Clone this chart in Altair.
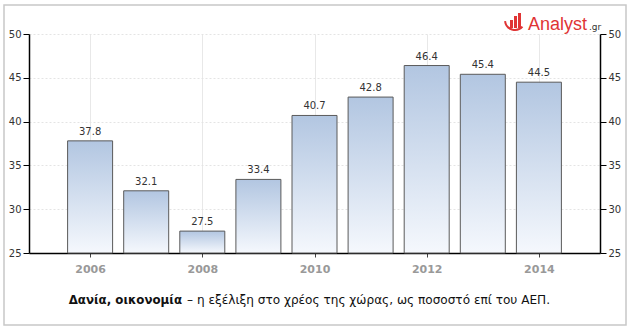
import altair as alt
import pandas as pd

years = [2006, 2007, 2008, 2009, 2010, 2011, 2012, 2013, 2014]
values = [37.8, 32.1, 27.5, 33.4, 40.7, 42.8, 46.4, 45.4, 44.5]
labels = ["37.8", "32.1", "27.5", "33.4", "40.7", "42.8", "46.4", "45.4", "44.5"]
x_ticks = [2006, 2008, 2010, 2012, 2014]
y_ticks = [25, 30, 35, 40, 45, 50]
title_bold = "Δανία, οικονομία"
title_rest = "– η εξέλιξη στο χρέος της χώρας, ως ποσοστό επί του ΑΕΠ."

df = pd.DataFrame({"year": years, "value": values, "label": labels, "base": [25] * len(years)})

W, H = 571, 219
FONT = "DejaVu Sans"
RED = "#e03434"

xscale = alt.Scale(domain=[2005, 2015], nice=False, zero=False)
yscale = alt.Scale(domain=[25, 50], nice=False, zero=False)

gradient = alt.LinearGradient(
    gradient="linear", x1=0, y1=0, x2=0, y2=1,
    stops=[alt.GradientStop(offset=0, color="#b2c6e1"),
           alt.GradientStop(offset=1, color="#f5f8fd")],
)

base = alt.Chart(df)

bars = base.mark_bar(size=45, fill=gradient, stroke="#5a5a5a", strokeWidth=1).encode(
    x=alt.X("year:Q", scale=xscale,
            axis=alt.Axis(values=x_ticks, format="d", title=None, domainColor="#000", domainWidth=1.5,
                          tickColor="#444", tickSize=4, labelColor="#999", labelFontWeight="bold",
                          labelFont=FONT, labelFontSize=11, labelPadding=6,
                          grid=True, gridColor="#e8e8e8")),
    y=alt.Y("value:Q", scale=yscale,
            axis=alt.Axis(values=y_ticks, title=None, orient="left", domainColor="#000", domainWidth=1.5,
                          tickColor="#000", tickSize=6, labelColor="#333", labelFont=FONT,
                          labelFontSize=10, labelPadding=2, grid=True, gridColor="#e4e4e4",
                          gridDash=[2, 2])),
    y2="base:Q",
)

text = base.mark_text(dy=-9, font=FONT, fontSize=10, color="#333").encode(
    x=alt.X("year:Q", scale=xscale),
    y=alt.Y("value:Q", scale=yscale, axis=None),
    text="label:N",
)

right = base.mark_point(opacity=0).encode(
    y=alt.Y("value:Q", scale=yscale,
            axis=alt.Axis(values=y_ticks, title=None, orient="right", domainColor="#000", domainWidth=1.5,
                          tickColor="#000", tickSize=6, labelColor="#333", labelFont=FONT,
                          labelFontSize=10, labelPadding=2, grid=False)),
)

one = alt.Chart(pd.DataFrame({"a": [0]}))

border = one.mark_rect(fill=None, stroke="#c8c8c8", strokeWidth=1.5).encode(
    x=alt.value(-25), x2=alt.value(597), y=alt.value(-29), y2=alt.value(291)
)

t_bold = one.mark_text(font=FONT, fontSize=11.8, fontWeight="bold", color="#111", align="right",
                       baseline="middle").encode(
    x=alt.value(153), y=alt.value(266), text=alt.value(title_bold))
t_rest = one.mark_text(font=FONT, fontSize=12.1, color="#111", align="left", baseline="middle").encode(
    x=alt.value(158), y=alt.value(266), text=alt.value(title_rest))

logo = one.mark_text(font="Liberation Sans", fontSize=18, color=RED, align="left",
                     baseline="alphabetic").encode(
    x=alt.value(499), y=alt.value(-4), text=alt.value("Analyst"))
logo_gr = one.mark_text(font=FONT, fontSize=9, color="#333", align="left", baseline="alphabetic").encode(
    x=alt.value(560), y=alt.value(-4), text=alt.value(".gr"))

icon1 = one.mark_rect(color=RED).encode(x=alt.value(481), x2=alt.value(484), y=alt.value(-14), y2=alt.value(-6))
icon2 = one.mark_rect(color=RED).encode(x=alt.value(485), x2=alt.value(488), y=alt.value(-18), y2=alt.value(-6))
icon3 = one.mark_rect(color=RED).encode(x=alt.value(489), x2=alt.value(492), y=alt.value(-21), y2=alt.value(-6))
swoosh = one.mark_arc(color=RED, radius=11, radius2=9, theta=2.3, theta2=4.6).encode(
    x=alt.value(486), y=alt.value(-14))

chart = alt.layer(border, bars, text, right, t_bold, t_rest, logo, logo_gr,
                  icon1, icon2, icon3, swoosh).resolve_scale(
    y="shared").resolve_axis(y="independent").properties(
    width=W, height=H,
    autosize=alt.AutoSizeParams(type="none"),
    padding={"left": 29, "top": 34, "right": 32, "bottom": 80},
    background="white",
).configure_view(stroke=None)

chart.save("out.html", embed_options={"renderer": "svg", "actions": False})
